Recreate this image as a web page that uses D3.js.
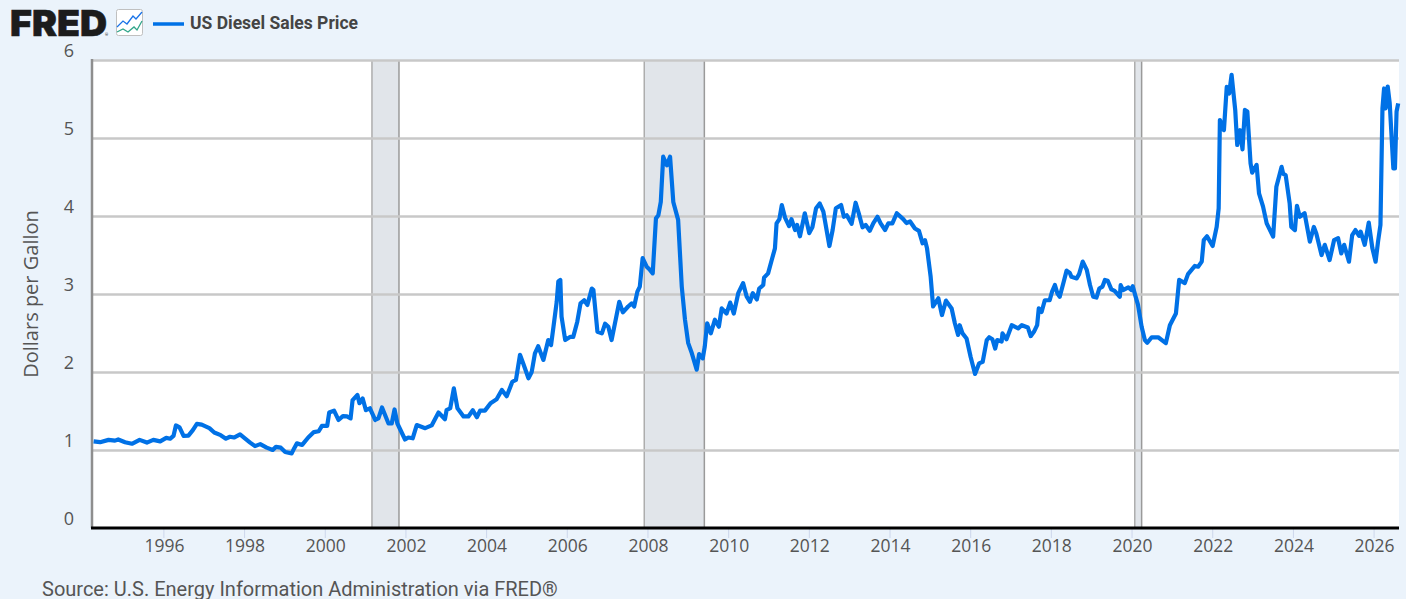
<!DOCTYPE html>
<html>
<head>
<meta charset="utf-8">
<title>US Diesel Sales Price</title>
<script src="https://cdn.jsdelivr.net/npm/d3@7"></script>
<style>
	html, body { margin: 0; padding: 0; background: #ebf3fb; overflow: hidden; }
	svg { display: block; }
</style>
</head>
<body>
<script>
	// decimal years and $ per gallon
	var years = [
		1994.27, 1994.43, 1994.64, 1994.80, 1994.88, 1995.05, 1995.22, 1995.41, 1995.59, 1995.75, 1995.92,
		1996.07, 1996.17, 1996.25, 1996.31, 1996.40, 1996.50, 1996.62, 1996.73, 1996.83, 1996.95,
		1997.14, 1997.26, 1997.42, 1997.55, 1997.65, 1997.75, 1997.90,
		1998.02, 1998.15, 1998.27, 1998.40, 1998.56, 1998.71, 1998.79, 1998.91,
		1999.02, 1999.18, 1999.24, 1999.31, 1999.44, 1999.59, 1999.73, 1999.85, 1999.93,
		2000.06, 2000.11, 2000.23, 2000.34, 2000.45, 2000.55, 2000.64, 2000.69, 2000.81, 2000.86, 2000.94,
		2001.02, 2001.12, 2001.25, 2001.33, 2001.42, 2001.58, 2001.66, 2001.73, 2001.80, 2001.99,
		2002.07, 2002.18, 2002.28, 2002.49, 2002.65, 2002.82, 2002.98,
		2003.02, 2003.11, 2003.20, 2003.29, 2003.44, 2003.56, 2003.67, 2003.77, 2003.85, 2003.97,
		2004.11, 2004.26, 2004.39, 2004.51, 2004.65, 2004.74, 2004.84, 2004.92,
		2005.05, 2005.13, 2005.21, 2005.29, 2005.42, 2005.54, 2005.61, 2005.67, 2005.75, 2005.79, 2005.84, 2005.87, 2005.96,
		2006.08, 2006.16, 2006.26, 2006.34, 2006.43, 2006.51, 2006.62, 2006.66, 2006.76, 2006.87, 2006.95,
		2007.03, 2007.11, 2007.22, 2007.30, 2007.39, 2007.52, 2007.61, 2007.67, 2007.75, 2007.81, 2007.88, 2007.98,
		2008.06, 2008.13, 2008.21, 2008.27, 2008.33, 2008.39, 2008.48, 2008.56, 2008.64, 2008.76, 2008.85, 2008.93,
		2009.01, 2009.10, 2009.22, 2009.28, 2009.37, 2009.42, 2009.48, 2009.57, 2009.67, 2009.77, 2009.84, 2009.96,
		2010.05, 2010.14, 2010.25, 2010.37, 2010.46, 2010.54, 2010.61, 2010.71, 2010.77, 2010.87, 2010.89, 2010.99,
		2011.08, 2011.16, 2011.20, 2011.27, 2011.33, 2011.41, 2011.51, 2011.57, 2011.66, 2011.71, 2011.78, 2011.90,
		2012.01, 2012.09, 2012.18, 2012.27, 2012.36, 2012.51, 2012.59, 2012.67, 2012.80, 2012.87, 2012.94,
		2013.06, 2013.16, 2013.24, 2013.33, 2013.41, 2013.51, 2013.60, 2013.70, 2013.78, 2013.89, 2013.97,
		2014.07, 2014.18, 2014.34, 2014.42, 2014.51, 2014.63, 2014.73, 2014.82, 2014.88, 2014.93,
		2015.02, 2015.08, 2015.21, 2015.30, 2015.40, 2015.54, 2015.62, 2015.70, 2015.74, 2015.81, 2015.91,
		2016.01, 2016.12, 2016.22, 2016.31, 2016.41, 2016.47, 2016.55, 2016.62, 2016.67, 2016.78, 2016.80, 2016.90,
		2017.03, 2017.19, 2017.28, 2017.43, 2017.50, 2017.58, 2017.66, 2017.70, 2017.77, 2017.85, 2017.97,
		2018.03, 2018.10, 2018.16, 2018.22, 2018.32, 2018.39, 2018.47, 2018.51, 2018.64, 2018.70, 2018.79, 2018.89, 2018.97,
		2019.05, 2019.13, 2019.20, 2019.28, 2019.34, 2019.41, 2019.50, 2019.58, 2019.71, 2019.73, 2019.79, 2019.92,
		2020.00, 2020.03, 2020.09, 2020.16, 2020.25, 2020.33, 2020.39, 2020.50, 2020.66, 2020.85, 2020.95,
		2021.10, 2021.18, 2021.32, 2021.40, 2021.57, 2021.65, 2021.74, 2021.79, 2021.87,
		2022.01, 2022.11, 2022.16, 2022.19, 2022.29, 2022.36, 2022.42, 2022.48, 2022.57, 2022.62, 2022.69, 2022.75, 2022.81, 2022.87, 2022.95, 2022.99,
		2023.10, 2023.16, 2023.26, 2023.35, 2023.51, 2023.59, 2023.72, 2023.76, 2023.82, 2023.92, 2023.96,
		2024.05, 2024.10, 2024.17, 2024.29, 2024.42, 2024.52, 2024.58, 2024.71, 2024.79, 2024.91,
		2025.02, 2025.12, 2025.20, 2025.27, 2025.39, 2025.47, 2025.55, 2025.64, 2025.68, 2025.78, 2025.88, 2025.97,
		2026.05, 2026.11, 2026.17, 2026.22, 2026.26, 2026.30, 2026.35, 2026.40, 2026.49, 2026.53, 2026.57, 2026.61
	];
	var prices = [
		1.11, 1.10, 1.13, 1.12, 1.135, 1.10, 1.08, 1.13, 1.095, 1.13, 1.11,
		1.155, 1.145, 1.18, 1.315, 1.29, 1.18, 1.185, 1.255, 1.335, 1.325,
		1.28, 1.225, 1.19, 1.145, 1.17, 1.16, 1.20,
		1.15, 1.095, 1.05, 1.075, 1.03, 1.00, 1.04, 1.03,
		0.975, 0.957, 1.02, 1.085, 1.065, 1.16, 1.23, 1.24, 1.31,
		1.31, 1.48, 1.505, 1.385, 1.435, 1.43, 1.405, 1.64, 1.705, 1.60, 1.66,
		1.51, 1.535, 1.385, 1.405, 1.545, 1.34, 1.34, 1.52, 1.34, 1.135,
		1.16, 1.15, 1.32, 1.28, 1.315, 1.48, 1.395,
		1.51, 1.535, 1.79, 1.535, 1.43, 1.43, 1.51, 1.42, 1.505, 1.505,
		1.60, 1.65, 1.77, 1.69, 1.875, 1.90, 2.22, 2.11,
		1.92, 2.00, 2.24, 2.33, 2.155, 2.41, 2.345, 2.58, 2.90, 3.16, 3.18, 2.71, 2.41,
		2.45, 2.45, 2.645, 2.88, 2.92, 2.86, 3.07, 3.05, 2.515, 2.495, 2.62,
		2.58, 2.41, 2.69, 2.90, 2.765, 2.84, 2.88, 2.84, 3.03, 3.095, 3.46, 3.35,
		3.31, 3.265, 3.97, 4.01, 4.18, 4.76, 4.65, 4.76, 4.18, 3.95, 3.095, 2.67,
		2.37, 2.24, 2.03, 2.23, 2.175, 2.325, 2.625, 2.495, 2.67, 2.58, 2.815, 2.75,
		2.89, 2.75, 3.01, 3.14, 2.965, 2.90, 3.01, 2.93, 3.07, 3.115, 3.21, 3.265,
		3.435, 3.585, 3.905, 3.96, 4.14, 3.98, 3.87, 3.96, 3.82, 3.885, 3.74, 4.035,
		3.78, 3.86, 4.10, 4.16, 4.055, 3.615, 3.82, 4.10, 4.14, 3.99, 4.01,
		3.90, 4.17, 4.03, 3.855, 3.885, 3.81, 3.91, 3.99, 3.905, 3.82, 3.905,
		3.905, 4.035, 3.96, 3.91, 3.93, 3.84, 3.81, 3.65, 3.69, 3.585,
		3.22, 2.84, 2.945, 2.73, 2.915, 2.815, 2.625, 2.475, 2.60, 2.495, 2.43,
		2.195, 1.975, 2.11, 2.13, 2.41, 2.445, 2.42, 2.30, 2.41, 2.39, 2.495, 2.42,
		2.60, 2.56, 2.60, 2.57, 2.46, 2.515, 2.60, 2.815, 2.77, 2.92, 2.92,
		3.03, 3.115, 3.01, 2.965, 3.16, 3.30, 3.27, 3.22, 3.20, 3.255, 3.415, 3.31, 3.115,
		2.965, 2.955, 3.07, 3.095, 3.18, 3.17, 3.06, 3.04, 2.965, 3.115, 3.05, 3.085,
		3.05, 3.10, 2.985, 2.86, 2.58, 2.41, 2.375, 2.445, 2.445, 2.37, 2.60,
		2.75, 3.18, 3.14, 3.255, 3.36, 3.35, 3.415, 3.69, 3.74,
		3.615, 3.86, 4.10, 5.23, 5.10, 5.655, 5.57, 5.81, 5.36, 4.91, 5.10, 4.855, 5.36, 5.34, 4.675, 4.555,
		4.655, 4.29, 4.12, 3.905, 3.735, 4.375, 4.63, 4.54, 4.525, 4.16, 3.86,
		3.82, 4.13, 3.99, 4.035, 3.67, 3.86, 3.775, 3.50, 3.63, 3.435,
		3.69, 3.715, 3.52, 3.63, 3.415, 3.755, 3.82, 3.745, 3.80, 3.63, 3.915, 3.585,
		3.415, 3.67, 3.885, 5.38, 5.635, 5.38, 5.66, 5.445, 4.61, 4.61, 5.34, 5.445
	];
	var recessionStart = [ 2001.17, 2007.92, 2020.08 ];
	var recessionEnd = [ 2001.84, 2009.41, 2020.25 ];
	var yearTicks = [ 1996, 1998, 2000, 2002, 2004, 2006, 2008, 2010, 2012, 2014, 2016, 2018, 2020, 2022, 2024, 2026 ];
	var priceTicks = [ 0, 1, 2, 3, 4, 5, 6 ];

	var width = 1406, height = 599;
	var plot = { left : 92, right : 1399, top : 60, bottom : 528 };

	var x = d3.scaleLinear().domain([ 1994.23, 2026.63 ]).range([ plot.left, plot.right ]);
	var y = d3.scaleLinear().domain([ 0, 6 ]).range([ plot.bottom, plot.top ]);

	var svg = d3.select("body").append("svg")//
	.attr("width", width)//
	.attr("height", height);

	svg.append("rect")//
	.attr("x", plot.left)//
	.attr("y", plot.top)//
	.attr("width", plot.right - plot.left)//
	.attr("height", plot.bottom - plot.top)//
	.attr("fill", "#ffffff");

	// recessions
	var bands = svg.append("g").selectAll("g").data(recessionStart).enter().append("g");
	bands.append("rect")//
	.attr("x", function(d) { return x(d); })//
	.attr("y", plot.top)//
	.attr("width", function(d, i) { return x(recessionEnd[i]) - x(d); })//
	.attr("height", plot.bottom - plot.top)//
	.attr("fill", "#e1e5ea");
	bands.append("line")//
	.attr("x1", function(d) { return x(d); })//
	.attr("x2", function(d) { return x(d); })//
	.attr("y1", plot.top)//
	.attr("y2", plot.bottom)//
	.attr("stroke", "#adadad")//
	.attr("stroke-width", 1.5);
	bands.append("line")//
	.attr("x1", function(d, i) { return x(recessionEnd[i]); })//
	.attr("x2", function(d, i) { return x(recessionEnd[i]); })//
	.attr("y1", plot.top)//
	.attr("y2", plot.bottom)//
	.attr("stroke", "#9a9a9a")//
	.attr("stroke-width", 1.5);

	// gridlines and y labels
	var yAxis = svg.append("g")//
	.attr("transform", "translate(" + plot.left + ",0)")//
	.call(d3.axisLeft(y).tickValues(priceTicks).tickSize(-(plot.right - plot.left)).tickFormat(d3.format("d")));
	yAxis.select(".domain").remove();
	yAxis.selectAll("line")//
	.attr("stroke", "#c8c8c8")//
	.attr("stroke-width", 2.5)//
	.filter(function(d) { return d == 0; }).remove();
	yAxis.selectAll("text")//
	.attr("x", -18)//
	.attr("dy", "-0.17em")//
	.attr("fill", "#555555")//
	.style("font-family", "'Open Sans', sans-serif")//
	.style("font-size", "18px");

	// x axis
	var xAxis = svg.append("g")//
	.attr("transform", "translate(0," + plot.bottom + ")")//
	.call(d3.axisBottom(x).tickValues(yearTicks).tickSize(10).tickFormat(d3.format("d")));
	xAxis.select(".domain").remove();
	xAxis.selectAll("line").attr("stroke", "#ccd6eb");
	xAxis.selectAll("text")//
	.attr("x", 0.5)//
	.attr("y", 12)//
	.attr("fill", "#555555")//
	.style("font-family", "'Open Sans', sans-serif")//
	.style("font-size", "17.5px");

	// axis lines
	svg.append("line")//
	.attr("x1", plot.left)//
	.attr("x2", plot.left)//
	.attr("y1", plot.top - 1)//
	.attr("y2", plot.bottom)//
	.attr("stroke", "#8e8e8e")//
	.attr("stroke-width", 2.5);

	// price line
	var line = d3.line()//
	.x(function(d) { return x(d); })//
	.y(function(d, i) { return y(prices[i]); });
	svg.append("path")//
	.attr("d", line(years))//
	.attr("fill", "none")//
	.attr("stroke", "#0071e6")//
	.attr("stroke-width", 4.2)//
	.attr("stroke-linejoin", "round");

	svg.append("line")//
	.attr("x1", plot.left - 1)//
	.attr("x2", plot.right)//
	.attr("y1", plot.bottom)//
	.attr("y2", plot.bottom)//
	.attr("stroke", "#000000")//
	.attr("stroke-width", 3);

	// y title
	svg.append("text")//
	.attr("transform", "translate(38,294) rotate(-90)")//
	.attr("text-anchor", "middle")//
	.attr("fill", "#555555")//
	.style("font-family", "'Open Sans', sans-serif")//
	.style("font-size", "20px")//
	.text("Dollars per Gallon");

	// logo
	svg.append("text")//
	.attr("x", 10)//
	.attr("y", 36)//
	.attr("fill", "#1c1c1c")//
	.attr("stroke", "#1c1c1c")//
	.attr("stroke-width", 0.6)//
	.attr("textLength", 97)//
	.attr("lengthAdjust", "spacingAndGlyphs")//
	.style("font-family", "Inter, Roboto, sans-serif")//
	.style("font-weight", 900)//
	.style("font-size", "36px")//
	.text("FRED");
	svg.append("text")//
	.attr("x", 105)//
	.attr("y", 36)//
	.attr("fill", "#1c1c1c")//
	.style("font-family", "Roboto, sans-serif")//
	.style("font-size", "4px")//
	.text("®");

	var icon = svg.append("g").attr("transform", "translate(116,9)");
	icon.append("rect")//
	.attr("x", 0.5)//
	.attr("y", 0.5)//
	.attr("width", 26)//
	.attr("height", 26)//
	.attr("rx", 2)//
	.attr("fill", "#ffffff")//
	.attr("stroke", "#c0c0c0");
	icon.append("path")//
	.attr("d", "M1,18 L7,12 L11,15 L17,7 L20,10 L26,3")//
	.attr("fill", "none")//
	.attr("stroke", "#1a73e8")//
	.attr("stroke-width", 1.3);
	icon.append("path")//
	.attr("d", "M1,23 L7,20 L12,23 L18,18 L21,21 L26,12")//
	.attr("fill", "none")//
	.attr("stroke", "#30a58a")//
	.attr("stroke-width", 1.3);

	// legend
	svg.append("line")//
	.attr("x1", 153)//
	.attr("x2", 184)//
	.attr("y1", 24)//
	.attr("y2", 24)//
	.attr("stroke", "#0071e6")//
	.attr("stroke-width", 3.5);
	svg.append("text")//
	.attr("x", 190)//
	.attr("y", 29)//
	.attr("fill", "#444444")//
	.style("font-family", "Roboto, sans-serif")//
	.style("font-weight", 700)//
	.style("font-size", "17.5px")//
	.text("US Diesel Sales Price");

	// source
	svg.append("text")//
	.attr("x", 42)//
	.attr("y", 596)//
	.attr("fill", "#555555")//
	.style("font-family", "Roboto, sans-serif")//
	.style("font-size", "20px")//
	.text("Source: U.S. Energy Information Administration via FRED®");
</script>
</body>
</html>
